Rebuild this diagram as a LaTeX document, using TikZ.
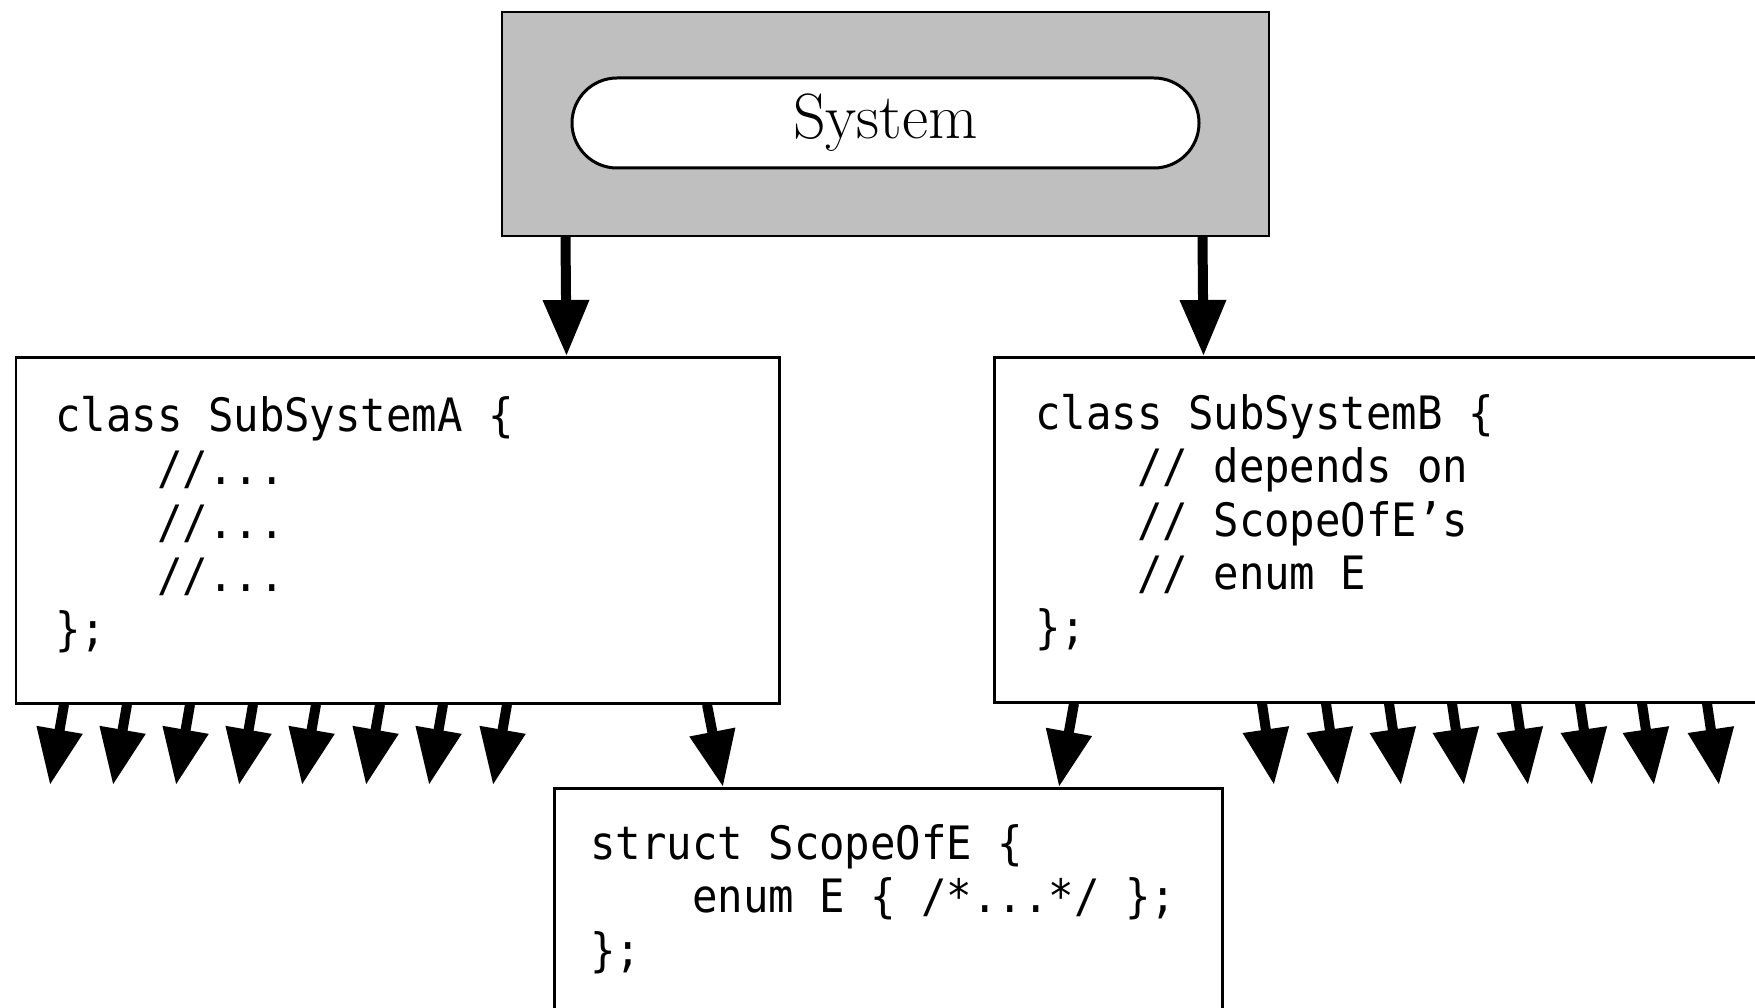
\documentclass[tikz,border=0pt]{standalone}
\usepackage{fontspec}
\newfontfamily\codefont{DejaVu Sans Mono}[FakeStretch=0.92]
\usetikzlibrary{arrows.meta}
\tikzset{
  codebox/.style={draw=black, line width=2.5pt, fill=white, anchor=north west, inner sep=0pt},
  code/.style={font=\fontsize{46}{53.5}\selectfont\codefont, anchor=base west, align=left, inner sep=0pt},
  bigarrow/.style={line width=10pt, -{Triangle[width=44pt,length=56pt]}},
  sysbox/.style={draw=black, line width=2pt, fill=black!25, minimum width=767pt, minimum height=224pt, inner sep=0pt},
  pill/.style={draw=black, line width=3pt, fill=white, rounded corners=45pt, minimum width=627pt, minimum height=90pt, inner sep=0pt, font=\fontsize{64}{72}\selectfont},
}
\begin{document}
\begin{tikzpicture}[x=1pt,y=-1pt]
\useasboundingbox (0,0) rectangle (1755,1008);
% system
\node[sysbox] (sys) at (885.5,124) {};
\node[pill] (pill) at (885.5,123) {System};
% boxes
\node[codebox, minimum width=763.5pt, minimum height=346pt] (A) at (14.5,356) {};
\node[codebox, minimum width=780pt, minimum height=345pt] (B) at (993,356) {};
\node[codebox, minimum width=668pt, minimum height=240pt] (C) at (553,787) {};
% code (anchored at the baseline of the last line)
\node[code] (codeA) at (55,645) {class SubSystemA \{\\\phantom{0000}//...\\\phantom{0000}//...\\\phantom{0000}//...\\\};};
\node[code] (codeB) at (1035,643) {class SubSystemB \{\\\phantom{0000}// depends on\\\phantom{0000}// ScopeOfE’s\\\phantom{0000}// enum E\\\};};
\node[code] (codeC) at (590,966) {struct ScopeOfE \{\\\phantom{0000}enum E \{ /*...*/ \};\\\};};
% top arrows
\draw[bigarrow] ([xshift=64.5pt]sys.south west) -- ([xshift=552pt]A.north west);
\draw[bigarrow] ([xshift=701.5pt]sys.south west) -- ([xshift=210.5pt]B.north west);
% A bottom arrows
\foreach \s/\t [count=\i] in {64/50,127/113,190/176,253/239,316/302,380/366,443/429,507/493}{
  \coordinate (ta\i) at (\t,785);
  \draw[bigarrow] ([xshift={(\s-14.5)*1pt}]A.south west) -- (ta\i);
}
% B bottom arrows
\foreach \s [count=\i] in {1262,1326,1389,1452,1516,1580,1642,1707}{
  \coordinate (tb\i) at (\s+12,785);
  \draw[bigarrow] ([xshift={(\s-993)*1pt}]B.south west) -- (tb\i);
}
% to ScopeOfE
\draw[bigarrow] ([xshift=692.5pt]A.south west) -- ([xshift=170pt]C.north west);
\draw[bigarrow] ([xshift=81pt]B.south west) -- ([xshift=506pt]C.north west);
\end{tikzpicture}
\end{document}
